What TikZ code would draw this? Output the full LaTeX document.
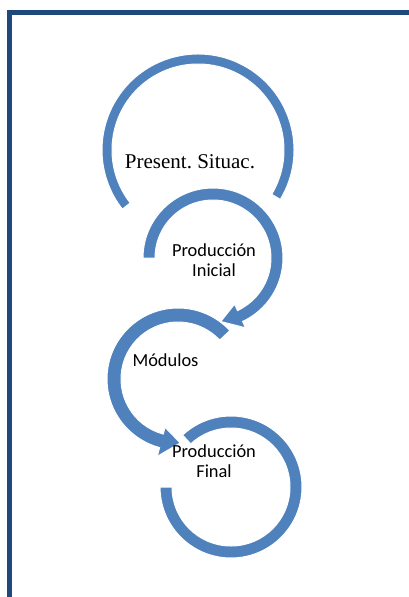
\documentclass[tikz,border=0pt]{standalone}
\usepackage{fontspec}
\setmainfont{Liberation Serif}
\newfontfamily\calib{Carlito}
\frenchspacing
\definecolor{arcblue}{HTML}{4F81BD}
\definecolor{frameblue}{HTML}{1F497D}
\tikzset{
  arcshape/.style={fill=arcblue, draw=white, line width=1pt, line join=miter},
  seriflabel/.style={font=\fontsize{21}{24}\selectfont, inner sep=0pt},
  sanslabel/.style={font=\calib\fontsize{18.4}{20}\selectfont, align=center, inner sep=0pt},
  framestyle/.style={draw=frameblue, line width=5pt}
}
\begin{document}
\begin{tikzpicture}[x=1pt,y=1pt]
\useasboundingbox (0,0) rectangle (409,-597);
% frame
\draw[framestyle] (9.5,-600) -- (9.5,-12.5) -- (412,-12.5);
% circle 1
\begin{scope}[shift={(198,-150)}]
\path[arcshape] (-31:96) arc[start angle=-31,end angle=218,radius=96] -- (218:86) arc[start angle=218,end angle=-31,radius=86] -- cycle;
\end{scope}
% circle 2
\begin{scope}[shift={(213,-258)}]
\path[arcshape] (180:70) arc[start angle=180,end angle=-65,radius=70] -- (-65:77) -- (-83:64) -- (-65:51) -- (-65:58) arc[start angle=-65,end angle=180,radius=58] -- cycle;
\end{scope}
% circle 3
\begin{scope}[shift={(178,-379)}]
\path[arcshape] (43:71) arc[start angle=43,end angle=255,radius=71] -- (255:80) -- (272:64) -- (255:50) -- (255:57) arc[start angle=255,end angle=43,radius=57] -- cycle;
\end{scope}
% circle 4
\begin{scope}[shift={(231,-487)}]
\path[arcshape] (133:71) arc[start angle=133,end angle=-180,radius=71] -- (180:59) arc[start angle=-180,end angle=133,radius=59] -- cycle;
\end{scope}
% labels
\node[seriflabel, anchor=base] (t1) at (190,-168) {Present. Situac.};
\node[sanslabel] (t2) at (214,-260) {Producción\\Inicial};
\node[sanslabel, anchor=base] (t3) at (165.5,-366) {Módulos};
\node[sanslabel] (t4) at (214,-461) {Producción\\Final};
\end{tikzpicture}
\end{document}
